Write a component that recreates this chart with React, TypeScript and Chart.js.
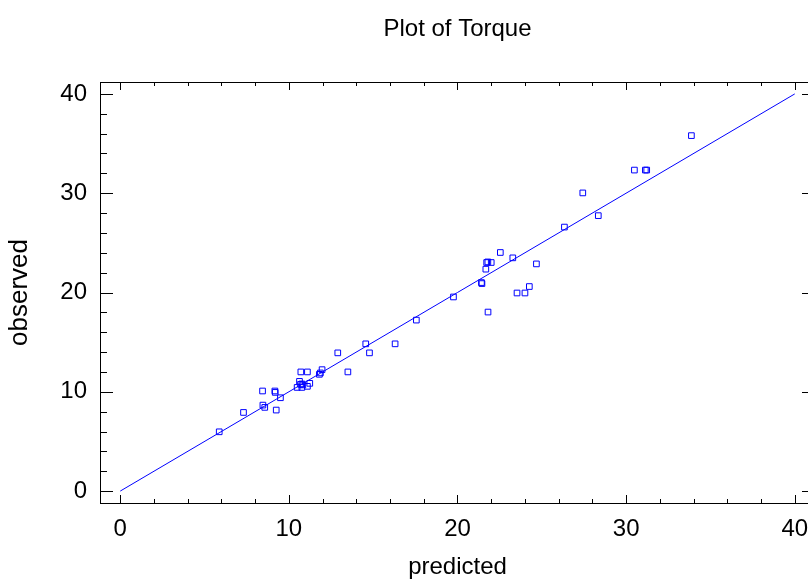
import React, { useEffect, useRef } from "react";
import { Chart, registerables } from "chart.js";

Chart.register(...registerables);

const predicted = [
  5.87, 7.31, 8.44, 8.46, 8.57, 9.17, 9.19, 9.25, 9.5, 10.49,
  10.63, 10.71, 11.1, 10.69, 10.77, 10.83, 10.77, 11.1, 11.24, 11.81,
  11.87, 11.97, 12.9, 13.5, 14.56, 14.78, 16.3, 17.56, 19.76, 21.42,
  21.45, 21.68, 21.73, 21.8, 22.0, 22.54, 23.28, 24.68, 21.81, 23.53,
  24.0, 24.26, 26.34, 27.43, 28.35, 30.49, 31.14, 31.22, 33.87,
];
const observed = [
  5.97, 7.92, 10.08, 8.66, 8.43, 10.08, 9.94, 8.16, 9.4, 10.44,
  11.05, 12.0, 12.0, 10.75, 10.79, 10.69, 10.44, 10.55, 10.85, 11.76,
  11.9, 12.23, 13.92, 12.0, 14.83, 13.92, 14.83, 17.22, 19.55, 21.0,
  20.9, 22.35, 23.02, 23.08, 23.02, 24.03, 23.49, 22.88, 18.03, 19.95,
  19.95, 20.6, 26.59, 30.03, 27.74, 32.33, 32.33, 32.33, 35.8,
];
const fitLineX = [0, 40];
const fitLineY = [0, 40];
const xTickLabels = [0, 10, 20, 30, 40];
const yTickLabels = [0, 10, 20, 30, 40];
const axisMin = -1.2;
const axisMax = 41.2;

const FONT = "'Liberation Sans', Arial, Helvetica, sans-serif";
const BLUE = "rgb(0,0,255)";

const inwardTicks = {
  id: "inwardTicks",
  afterDraw(chart: any) {
    const ctx = chart.ctx;
    const xs = chart.scales.x;
    const ys = chart.scales.y;
    const area = chart.chartArea;
    ctx.save();
    ctx.strokeStyle = "#000";
    ctx.lineWidth = 1;
    ctx.beginPath();
    for (let v = 0; v <= 40; v += 2) {
      const major = v % 10 === 0;
      const px = Math.round(xs.getPixelForValue(v)) + 0.5;
      const lx = major ? 8 : 4;
      ctx.moveTo(px, area.bottom);
      ctx.lineTo(px, area.bottom - lx);
      ctx.moveTo(px, area.top);
      ctx.lineTo(px, area.top + lx);
      const py = Math.round(ys.getPixelForValue(v)) + 0.5;
      const ly = major ? 13 : 7;
      ctx.moveTo(area.left, py);
      ctx.lineTo(area.left + ly, py);
      ctx.moveTo(area.right, py);
      ctx.lineTo(area.right - ly, py);
    }
    ctx.stroke();
    ctx.restore();
  },
};

export default function App() {
  const ref = useRef<HTMLCanvasElement>(null);
  useEffect(() => {
    if (!ref.current) return;
    const points = predicted.map((x, i) => ({ x, y: observed[i] }));
    const line = fitLineX.map((x, i) => ({ x, y: fitLineY[i] }));
    const borderOnly = {
      drawOnChartArea: false,
      drawTicks: false,
      display: true,
      color: "rgba(0,0,0,0)",
    };
    const chart = new Chart(ref.current, {
      type: "scatter",
      data: {
        datasets: [
          {
            type: "line",
            data: line,
            borderColor: BLUE,
            borderWidth: 1,
            pointRadius: 0,
            fill: false,
            xAxisID: "x",
            yAxisID: "y",
          } as any,
          {
            data: points,
            pointStyle: "rect",
            pointRadius: 4,
            pointBorderWidth: 1,
            pointBorderColor: BLUE,
            pointBackgroundColor: "rgba(255,255,255,0)",
            xAxisID: "x",
            yAxisID: "y",
          },
        ],
      },
      options: {
        animation: false,
        responsive: false,
        events: [],
        layout: { padding: 0 },
        plugins: {
          legend: { display: false },
          tooltip: { enabled: false },
          title: {
            display: true,
            text: "Plot of Torque",
            color: "#000",
            font: { family: FONT, size: 24, weight: "normal" },
            padding: { top: 15, bottom: 5 },
          },
        },
        scales: {
          x: {
            type: "linear",
            position: "bottom",
            min: axisMin,
            max: axisMax,
            afterBuildTicks: (s: any) => {
              s.ticks = xTickLabels.map((v) => ({ value: v }));
            },
            afterFit: (s: any) => {
              s.height = 82;
            },
            grid: borderOnly,
            border: { display: true, color: "#000", width: 1 },
            ticks: {
              color: "#000",
              font: { family: FONT, size: 24 },
              padding: 12,
              maxRotation: 0,
              autoSkip: false,
            },
            title: {
              display: true,
              text: "predicted",
              color: "#000",
              font: { family: FONT, size: 24 },
              padding: { top: 0, bottom: 3 },
            },
          },
          x2: {
            type: "linear",
            position: "top",
            min: axisMin,
            max: axisMax,
            afterFit: (s: any) => {
              s.height = 33.2;
            },
            grid: borderOnly,
            border: { display: true, color: "#000", width: 1 },
            ticks: { display: false },
          },
          y: {
            type: "linear",
            position: "left",
            min: axisMin,
            max: axisMax,
            afterBuildTicks: (s: any) => {
              s.ticks = yTickLabels.map((v) => ({ value: v }));
            },
            afterFit: (s: any) => {
              s.width = 100;
            },
            grid: borderOnly,
            border: { display: true, color: "#000", width: 1 },
            ticks: {
              color: "#000",
              font: { family: FONT, size: 24 },
              padding: 13,
              autoSkip: false,
            },
            title: {
              display: true,
              text: "observed",
              color: "#000",
              font: { family: FONT, size: 26 },
              padding: { top: 4, bottom: 0 },
            },
          },
          y2: {
            type: "linear",
            position: "right",
            min: axisMin,
            max: axisMax,
            afterFit: (s: any) => {
              s.width = 100;
            },
            grid: borderOnly,
            border: { display: true, color: "#000", width: 1 },
            ticks: { display: false },
          },
        },
      } as any,
      plugins: [inwardTicks],
    });
    return () => chart.destroy();
  }, []);

  return (
    <div
      style={{
        position: "fixed",
        left: 0,
        top: 0,
        width: 808,
        height: 581,
        overflow: "hidden",
        background: "#fff",
      }}
    >
      <canvas ref={ref} width={915} height={585} style={{ display: "block" }} />
    </div>
  );
}
